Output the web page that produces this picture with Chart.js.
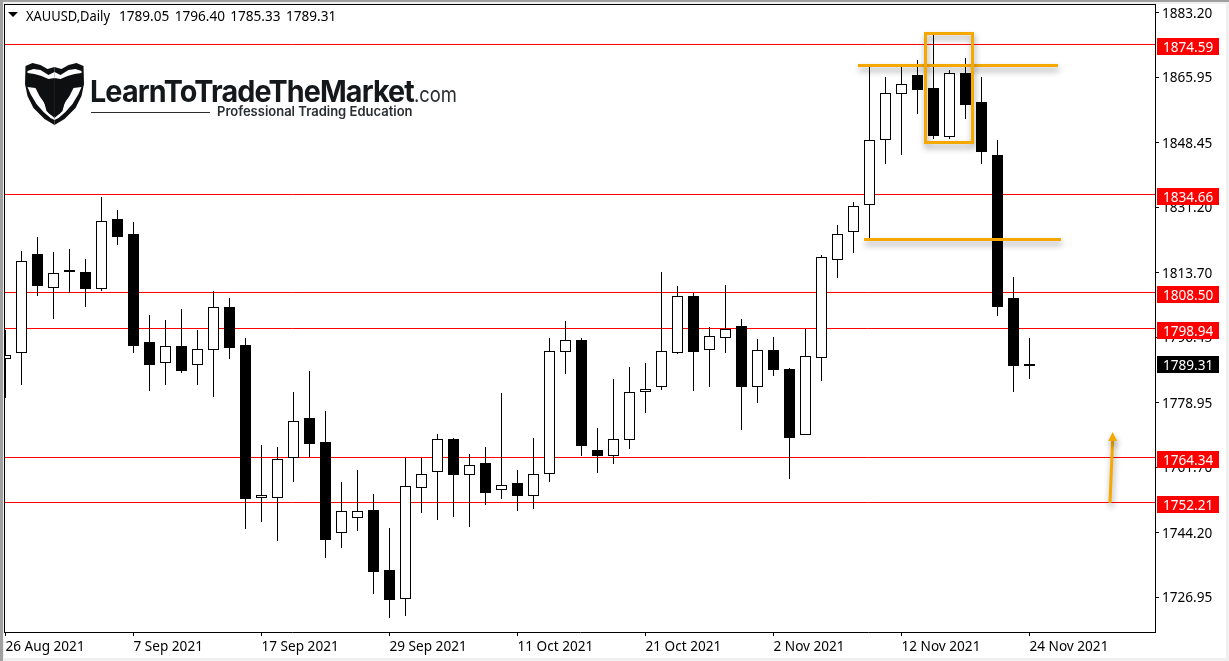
<!DOCTYPE html>
<html>
<head>
<meta charset="utf-8">
<title>XAUUSD Daily</title>
<script src="https://cdn.jsdelivr.net/npm/chart.js@4/dist/chart.umd.min.js"></script>
<style>
  html, body { margin: 0; padding: 0; background: #fff; overflow: hidden; }
  canvas { display: block; }
</style>
</head>
<body>
<canvas id="goldChart" width="1229" height="661"></canvas>
<script>
// Candle values, one entry per trading day
const opens = [1790.76,1792.37,1818.64,1809.64,1814.37,1813.83,1809.47,1828.00,1823.99,1795.12,1789.69,1794.05,1789.16,1793.17,1804.48,1794.32,1753.61,1753.61,1764.30,1774.99,1768.39,1744.25,1748.26,1750.40,1734.17,1726.61,1756.28,1760.56,1769.38,1759.75,1762.96,1755.74,1757.62,1754.14,1760.02,1792.63,1795.65,1766.44,1764.83,1769.11,1781.83,1783.28,1792.37,1807.42,1793.17,1796.37,1799.40,1783.28,1792.98,1787.90,1770.45,1791.03,1817.23,1824.71,1831.93,1849.30,1861.60,1866.49,1863.02,1850.11,1867.03,1859.27,1845.11,1806.88,1789.05]
const highs = [1798.33,1819.45,1823.19,1819.18,1819.98,1817.31,1833.88,1830.40,1827.20,1802.34,1801.00,1803.94,1798.33,1808.75,1806.88,1796.19,1767.59,1767.05,1781.75,1787.37,1776.68,1757.70,1760.90,1754.49,1745.40,1764.11,1764.30,1770.53,1769.46,1765.18,1767.05,1781.49,1760.90,1769.46,1796.19,1800.73,1796.37,1772.13,1785.23,1788.44,1789.51,1813.83,1810.09,1808.22,1799.13,1810.36,1801.27,1795.92,1796.46,1788.17,1798.78,1818.38,1826.40,1832.73,1869.16,1865.96,1869.16,1870.50,1877.18,1868.02,1871.04,1865.96,1849.12,1812.49,1796.40]
const lows = [1780.15,1783.70,1807.50,1801.35,1808.40,1804.56,1808.75,1821.13,1792.26,1782.10,1783.70,1786.91,1783.70,1780.50,1790.66,1745.21,1747.08,1742.01,1757.77,1764.38,1737.46,1740.14,1744.68,1727.84,1721.42,1721.96,1749.49,1747.62,1748.42,1745.75,1751.63,1753.23,1750.03,1750.56,1757.77,1786.65,1764.73,1760.18,1762.59,1766.60,1776.22,1782.37,1791.99,1782.10,1783.17,1792.26,1771.68,1778.89,1786.11,1758.58,1770.45,1784.78,1812.31,1818.99,1822.57,1842.78,1845.19,1856.15,1849.46,1849.46,1854.81,1842.78,1802.15,1781.83,1785.33]
const closes = [1791.83,1816.96,1810.09,1813.75,1813.91,1809.37,1827.65,1823.27,1794.13,1789.05,1794.24,1787.45,1793.44,1804.66,1793.60,1753.23,1754.41,1764.03,1774.19,1767.93,1742.27,1750.13,1750.13,1733.72,1726.23,1756.81,1760.02,1769.38,1759.65,1762.43,1754.84,1757.08,1754.03,1760.02,1792.90,1795.84,1767.40,1764.73,1769.38,1781.94,1782.74,1792.90,1807.60,1792.53,1796.91,1798.78,1783.17,1793.17,1787.72,1769.54,1791.56,1818.03,1824.18,1831.66,1849.30,1861.87,1864.27,1862.56,1850.27,1867.21,1858.55,1845.99,1804.56,1788.78,1789.31]

// Axis labels
const priceTicks = [1883.20,1865.95,1848.45,1831.20,1813.70,1796.45,1778.95,1761.70,1744.20,1726.95]
const dateTickIndex = [0,8,16,24,32,40,48,56,64]
const dateTickLabels = ['26 Aug 2021','7 Sep 2021','17 Sep 2021','29 Sep 2021','11 Oct 2021','21 Oct 2021','2 Nov 2021','12 Nov 2021','24 Nov 2021']

// Horizontal levels and the last price
const levels = [1874.59,1834.66,1808.50,1798.94,1764.34,1752.21]
const lastPrice = 1789.31

// Orange drawings, in candle index and price
const orangeLineFrom = [53.28,53.66]
const orangeLineTo = [65.78,65.97]
const orangeLinePrice = [1869.10,1822.60]
const orangeBoxIndex = [57.5,60.44]
const orangeBoxPrice = [1877.65,1848.53]
const arrowIndex = [69.03,69.2]
const arrowPrice = [1752.2,1771.16]

const labelFont = '13.6px "Noto Sans"'
const orange = '#f5a800'

// Snap bars to whole pixels so the candles stay sharp like the original
const snapBars = {
  id: 'snapBars',
  beforeDatasetsDraw(chart) {
    chart.data.datasets.forEach((ds, i) => {
      const minHeight = ds.label === 'Body' ? 2 : 1
      chart.getDatasetMeta(i).data.forEach((bar) => {
        const top = Math.round(Math.min(bar.y, bar.base))
        const bottom = Math.round(Math.max(bar.y, bar.base))
        bar.y = top
        bar.base = Math.max(bottom, top + minHeight)
        bar.height = bar.base - bar.y
      })
    })
  },
}

// Window frame and red level lines go under the candles
const backdrop = {
  id: 'backdrop',
  beforeDraw(chart) {
    const ctx = chart.ctx
    ctx.save()
    ctx.fillStyle = '#f0f0f0'
    ctx.fillRect(0, 0, 1229, 4)
    ctx.fillRect(0, 0, 4, 661)
    ctx.fillRect(1226, 0, 3, 661)
    ctx.fillRect(0, 658, 1229, 3)
    ctx.fillStyle = '#a0a0a0'
    ctx.fillRect(0, 0, 1229, 2)
    ctx.fillRect(0, 0, 3, 661)
    ctx.fillStyle = '#000'
    ctx.fillRect(4, 4, 1152, 1)
    ctx.fillRect(4, 4, 1, 629)
    ctx.restore()

    // price labels sit 1px lower than the middle of their tick
    const yScale = chart.scales.y
    if (!yScale.labelsShifted) {
      const drawLabels = yScale.drawLabels
      yScale.drawLabels = function (area) {
        this.ctx.save()
        this.ctx.translate(0, 1)
        drawLabels.call(this, area)
        this.ctx.restore()
      }
      yScale.labelsShifted = true
    }
  },
  beforeDatasetsDraw(chart) {
    const ctx = chart.ctx
    const { left, right } = chart.chartArea
    const y = chart.scales.y
    ctx.save()
    ctx.strokeStyle = '#ff0000'
    ctx.lineWidth = 1
    levels.forEach((level) => {
      const py = Math.floor(y.getPixelForValue(level)) + 0.5
      ctx.beginPath()
      ctx.moveTo(left, py)
      ctx.lineTo(right, py)
      ctx.stroke()
    })
    ctx.restore()
  },
}

function drawLogo(ctx) {
  const cx = 54.5
  // each shape is given for the left half and mirrored
  const half = (pts, fill) => {
    ;[1, -1].forEach((side) => {
      ctx.beginPath()
      pts.forEach((p, i) => {
        const x = cx + side * p[0]
        if (i === 0) ctx.moveTo(x, p[1])
        else ctx.lineTo(x, p[1])
      })
      ctx.closePath()
      ctx.fillStyle = fill
      ctx.fill()
    })
  }
  half([[0,67],[7,69],[14,65],[22,63],[29,66],[29.5,84],[27,96],[21,108],[10,119],[0,125]], '#0d0f10')
  half([[0,72],[6,75],[14,70],[21,69],[27,71],[27,73],[20,74],[13,76],[6,79],[0,78]], '#fff')
  half([[27,87],[19,88],[15,96],[10,103],[8,111],[0,118],[0,120],[4,118],[11,112],[18,104],[24,94]], '#fff')
  half([[0,79],[8,80],[13,81],[17,83],[27,82],[29,85],[19,87],[16,91],[12,99],[9,106],[6,113],[3,115],[0,116]], '#0d0f10')
}

// Logo, orange drawings and price tags sit on top of everything
const overlay = {
  id: 'overlay',
  afterDraw(chart) {
    const ctx = chart.ctx
    const xs = chart.scales.x
    const ys = chart.scales.y
    ctx.save()

    // header line
    ctx.fillStyle = '#000'
    ctx.beginPath()
    ctx.moveTo(8, 12)
    ctx.lineTo(18, 12)
    ctx.lineTo(13, 17)
    ctx.closePath()
    ctx.fill()
    ctx.font = labelFont
    ctx.textBaseline = 'alphabetic'
    ctx.textAlign = 'left'
    ctx.fillText('XAUUSD,Daily', 26, 21, 84)
    ctx.wordSpacing = '1.8px'
    ctx.fillText([opens[64], highs[64], lows[64], closes[64]].map((v) => v.toFixed(2)).join(' '), 119, 21)
    ctx.wordSpacing = '0px'

    // logo
    drawLogo(ctx)
    ctx.fillStyle = '#15181a'
    ctx.font = 'bold 30px Inter'
    ctx.letterSpacing = '-0.9px'
    ctx.fillText('LearnToTradeTheMarket', 90, 102, 324)
    ctx.letterSpacing = '0px'
    ctx.font = '21px Inter'
    ctx.fillStyle = '#2a2d30'
    ctx.fillText('.com', 414, 102, 43)
    ctx.font = '600 13px Inter'
    ctx.fillText('Professional Trading Education', 217, 116, 197)
    ctx.fillRect(91, 112, 119, 1)

    // orange drawings with a soft shadow
    ctx.strokeStyle = orange
    ctx.fillStyle = orange
    ctx.shadowColor = 'rgba(0,0,0,0.4)'
    ctx.shadowBlur = 6
    ctx.shadowOffsetX = 1
    ctx.shadowOffsetY = 4
    ctx.lineWidth = 3
    orangeLinePrice.forEach((price, i) => {
      const py = ys.getPixelForValue(price)
      ctx.beginPath()
      ctx.moveTo(xs.getPixelForValue(orangeLineFrom[i]), py)
      ctx.lineTo(xs.getPixelForValue(orangeLineTo[i]), py)
      ctx.stroke()
    })
    ctx.strokeRect(
      xs.getPixelForValue(orangeBoxIndex[0]),
      ys.getPixelForValue(orangeBoxPrice[0]),
      xs.getPixelForValue(orangeBoxIndex[1]) - xs.getPixelForValue(orangeBoxIndex[0]),
      ys.getPixelForValue(orangeBoxPrice[1]) - ys.getPixelForValue(orangeBoxPrice[0])
    )

    // arrow
    const ax0 = xs.getPixelForValue(arrowIndex[0])
    const ay0 = ys.getPixelForValue(arrowPrice[0])
    const ax1 = xs.getPixelForValue(arrowIndex[1])
    const ay1 = ys.getPixelForValue(arrowPrice[1])
    ctx.beginPath()
    ctx.moveTo(ax0, ay0)
    ctx.lineTo(ax1, ay1 + 7)
    ctx.stroke()
    ctx.beginPath()
    ctx.moveTo(ax1, ay1)
    ctx.lineTo(ax1 + 4.5, ay1 + 9)
    ctx.lineTo(ax1 - 4.5, ay1 + 9)
    ctx.closePath()
    ctx.fill()
    ctx.shadowColor = 'transparent'

    // price tags on the axis
    ctx.font = labelFont
    ctx.textBaseline = 'middle'
    levels.forEach((level) => {
      const top = Math.floor(ys.getPixelForValue(level)) - 6
      ctx.fillStyle = '#ff0000'
      ctx.fillRect(1157, top, 62, 17)
      ctx.fillStyle = '#fff'
      ctx.fillText(level.toFixed(2), 1163, top + 10)
    })
    const lastTop = Math.floor(ys.getPixelForValue(lastPrice)) - 8
    ctx.fillStyle = '#000'
    ctx.fillRect(1157, lastTop, 62, 17)
    ctx.fillStyle = '#fff'
    ctx.fillText(lastPrice.toFixed(2), 1163, lastTop + 10)
    ctx.restore()
  },
}

// drop the room Chart.js keeps for the first and last tick label
const noEdgePadding = (scale) => {
  scale.paddingTop = 0
  scale.paddingBottom = 0
  scale.paddingLeft = 0
  scale.paddingRight = 0
}

const ctx = document.getElementById('goldChart').getContext('2d')
new Chart(ctx, {
  type: 'bar',
  data: {
    datasets: [
      {
        label: 'Wick',
        data: highs.map((h, i) => ({ x: i, y: [lows[i], h] })),
        backgroundColor: '#000',
        barThickness: 1,
        inflateAmount: 0,
        order: 2,
      },
      {
        label: 'Body',
        data: opens.map((o, i) => ({ x: i, y: [o, closes[i]] })),
        backgroundColor: opens.map((o, i) => (closes[i] >= o ? '#fff' : '#000')),
        borderColor: '#000',
        borderWidth: 1,
        borderSkipped: false,
        barThickness: 11,
        inflateAmount: 0,
        order: 1,
      },
    ],
  },
  options: {
    responsive: false,
    animation: false,
    devicePixelRatio: 1,
    layout: { padding: { left: 5, top: 5, right: 0, bottom: 0 } },
    datasets: { bar: { grouped: false } },
    plugins: { legend: { display: false }, tooltip: { enabled: false } },
    scales: {
      x: {
        type: 'linear',
        offset: false,
        min: -0.03125,
        max: 71.84375,
        afterBuildTicks(scale) {
          scale.ticks = dateTickIndex.map((value) => ({ value }))
        },
        afterFit(scale) {
          scale.height = 29
          noEdgePadding(scale)
        },
        border: { display: true, color: '#000', width: 1 },
        grid: { display: true, offset: false, drawOnChartArea: false, drawTicks: true, tickLength: 4, tickColor: '#000' },
        ticks: {
          autoSkip: false,
          maxRotation: 0,
          align: 'start',
          padding: 3,
          color: '#000',
          font: { family: 'Noto Sans', size: 13.6 },
          callback: (value, i) => dateTickLabels[i],
        },
      },
      y: {
        type: 'linear',
        position: 'right',
        min: 1717.71,
        max: 1885.27,
        afterBuildTicks(scale) {
          scale.ticks = priceTicks.map((value) => ({ value }))
        },
        afterFit(scale) {
          scale.width = 74
          noEdgePadding(scale)
        },
        border: { display: true, color: '#000', width: 1 },
        grid: { display: true, drawOnChartArea: false, drawTicks: true, tickLength: 4, tickColor: '#000' },
        ticks: {
          padding: 3,
          color: '#000',
          font: { family: 'Noto Sans', size: 13.6 },
          callback: (value) => value.toFixed(2),
        },
      },
    },
  },
  plugins: [snapBars, backdrop, overlay],
})
</script>
</body>
</html>
